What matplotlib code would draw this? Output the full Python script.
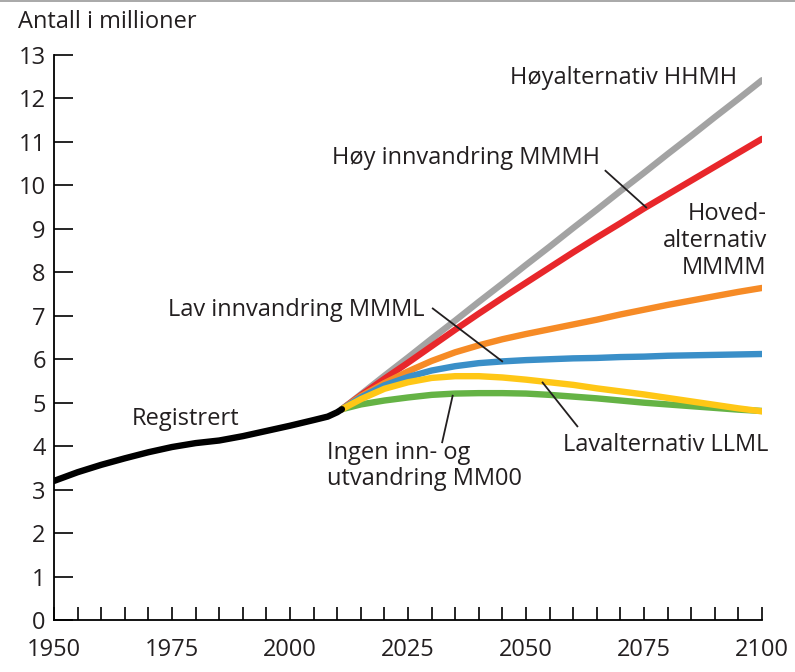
import matplotlib
matplotlib.use("Agg")
import matplotlib.pyplot as plt
from matplotlib.lines import Line2D

plt.rcParams['font.family'] = ['Open Sans', 'DejaVu Sans']

# ---- data ----
hist_years = [1950, 1955, 1960, 1965, 1970, 1975, 1980, 1985, 1990, 1995, 2000, 2005, 2008, 2010, 2011]
registrert = [3.2, 3.4, 3.57, 3.72, 3.86, 3.98, 4.07, 4.13, 4.23, 4.35, 4.47, 4.6, 4.68, 4.78, 4.85]

proj_years = [2011, 2015, 2020, 2025, 2030, 2035, 2040, 2045, 2050, 2055,
              2060, 2065, 2070, 2075, 2080, 2085, 2090, 2095, 2100]
hhmh = [4.85, 5.19, 5.62, 6.04, 6.47, 6.89, 7.32, 7.74, 8.17, 8.59,
        9.02, 9.44, 9.87, 10.29, 10.72, 11.14, 11.57, 11.99, 12.42]
mmmh = [4.85, 5.17, 5.55, 5.92, 6.3, 6.68, 7.05, 7.41, 7.76, 8.11,
        8.46, 8.8, 9.13, 9.47, 9.79, 10.11, 10.43, 10.75, 11.07]
mmmm = [4.85, 5.15, 5.45, 5.72, 5.96, 6.16, 6.32, 6.46, 6.58, 6.69,
        6.8, 6.91, 7.03, 7.14, 7.25, 7.35, 7.45, 7.55, 7.64]
mmml = [4.85, 5.12, 5.4, 5.59, 5.74, 5.84, 5.91, 5.95, 5.98, 6.0,
        6.02, 6.03, 6.05, 6.06, 6.08, 6.09, 6.1, 6.11, 6.12]
llml = [4.85, 5.08, 5.32, 5.47, 5.57, 5.61, 5.61, 5.58, 5.53, 5.47,
        5.41, 5.33, 5.26, 5.19, 5.11, 5.03, 4.95, 4.87, 4.8]
mm00 = [4.85, 4.96, 5.05, 5.12, 5.18, 5.21, 5.22, 5.22, 5.21, 5.18,
        5.14, 5.1, 5.05, 5.0, 4.96, 4.92, 4.88, 4.84, 4.81]

x_ticks_major = [1950, 1975, 2000, 2025, 2050, 2075, 2100]
y_ticks = list(range(0, 14))

TXT = '#231f20'
FS = 17

fig = plt.figure(figsize=(7.95, 6.72), dpi=100)
ax = fig.add_axes([54/795, 1-620/672, (762-54)/795, (620-55)/672])

lw = 4.6
ax.plot(proj_years, hhmh, color='#a3a3a3', lw=lw, solid_capstyle='round', zorder=2)
ax.plot(proj_years, mmmh, color='#e8272b', lw=lw, solid_capstyle='round', zorder=3)
ax.plot(proj_years, mmmm, color='#f68b26', lw=lw, solid_capstyle='round', zorder=4)
ax.plot(proj_years, mmml, color='#3a8fc8', lw=lw, solid_capstyle='round', zorder=5)
ax.plot(proj_years, mm00, color='#65b345', lw=lw, solid_capstyle='round', zorder=6)
ax.plot(proj_years, llml, color='#ffc716', lw=lw, solid_capstyle='round', zorder=7)
ax.plot(hist_years, registrert, color='black', lw=lw, solid_capstyle='round', zorder=8)

ax.set_xlim(1950, 2100)
ax.set_ylim(0, 13)
ax.set_xticks(x_ticks_major)
ax.set_xticks(range(1950, 2101, 5), minor=True)
ax.set_yticks(y_ticks)
for s in ['top', 'right']:
    ax.spines[s].set_visible(False)
for s in ['left', 'bottom']:
    ax.spines[s].set_linewidth(1.3)
    ax.spines[s].set_color('black')
ax.tick_params(axis='y', direction='in', length=14, width=1.2, pad=6,
               labelsize=FS, labelcolor=TXT)
ax.tick_params(axis='x', which='both', direction='in', length=9.5, width=1.2)
ax.tick_params(axis='x', which='major', pad=13, labelsize=FS, labelcolor=TXT)
for lab in ax.get_yticklabels() + ax.get_xticklabels():
    lab.set_clip_on(False)

# annotations
def leader(p0, p1):
    ax.plot([p0[0], p1[0]], [p0[1], p1[1]], color='#231f20', lw=1.3, zorder=10,
            solid_capstyle='butt')

ax.text(2094.7, 12.47, 'Høyalternativ HHMH', ha='right', va='center', fontsize=FS, color=TXT)
ax.text(2065.7, 10.63, 'Høy innvandring MMMH', ha='right', va='center', fontsize=FS, color=TXT)
leader((2066.7, 10.35), (2075.6, 9.48))
ax.text(2101, 8.72, 'Hoved-\nalternativ\nMMMM', ha='right', va='center', fontsize=FS,
        color=TXT, multialignment='right', linespacing=1.15)
ax.text(2028.6, 7.13, 'Lav innvandring MMML', ha='right', va='center', fontsize=FS, color=TXT)
leader((2030.1, 7.18), (2045.1, 5.94))
ax.text(1966.5, 4.62, 'Registrert', ha='left', va='center', fontsize=FS, color=TXT)
ax.text(2007.8, 3.54, 'Ingen inn- og\nutvandring MM00', ha='left', va='center', fontsize=FS,
        color=TXT, linespacing=1.15)
leader((2032.2, 4.07), (2034.5, 5.18))
ax.text(2057.9, 4.03, 'Lavalternativ LLML', ha='left', va='center', fontsize=FS, color=TXT)
leader((2061.0, 4.44), (2053.4, 5.48))

fig.text(18/795, 1-22/672, 'Antall i millioner', ha='left', va='center', fontsize=FS, color=TXT)
fig.add_artist(Line2D([0, 1], [1-1/672, 1-1/672], color='#9a9a9a', lw=1.2,
                      transform=fig.transFigure))

fig.savefig('out.png', dpi=100)
